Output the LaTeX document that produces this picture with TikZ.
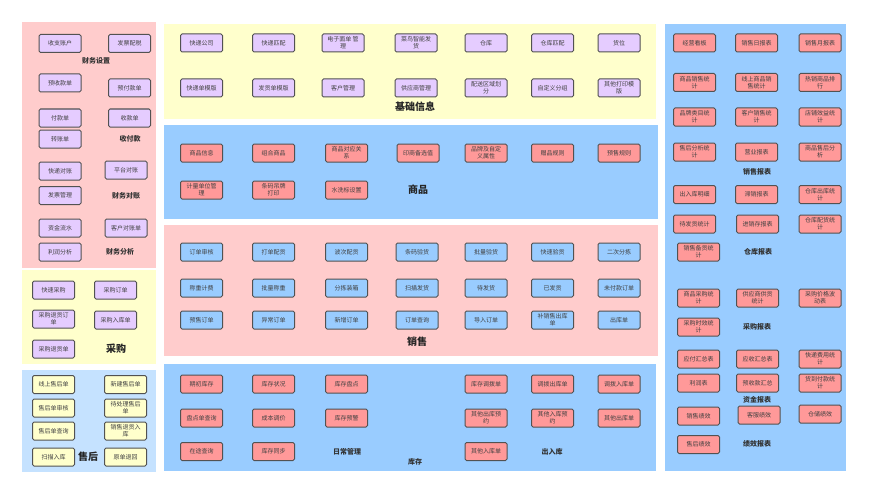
\documentclass[tikz,border=0pt]{standalone}
\usepackage{fontspec}
\setmainfont{Noto Sans CJK SC}
\begin{document}
\begin{tikzpicture}[x=1pt,y=-1pt,
  box/.style={draw=black!68,line width=1pt,rounded corners=1.5pt,minimum width=42pt,minimum height=18pt,inner sep=1pt,align=center,font=\fontsize{6}{7}\selectfont,text=black!75},
  pu/.style={box,fill=purpleN},
  pk/.style={box,fill=pinkN},
  bl/.style={box,fill=blueN},
  ye/.style={box,fill=yellowN},
  lab/.style={font=\fontsize{7}{8}\selectfont\bfseries,text=black!80},
  big/.style={font=\fontsize{10}{11}\selectfont\bfseries,text=black!85}]
\definecolor{purpleN}{HTML}{E5CCFF}
\definecolor{pinkN}{HTML}{FF9999}
\definecolor{blueN}{HTML}{99CCFF}
\definecolor{yellowN}{HTML}{FFFFCC}
\definecolor{pinkbg}{HTML}{FFCCCC}
\definecolor{yellowbg}{HTML}{FFFFCC}
\definecolor{bluebg}{HTML}{99CCFF}
\definecolor{lightbluebg}{HTML}{C5E2FF}
\useasboundingbox[fill=white] (0,0) rectangle (874,500);
% panels
\fill[pinkbg] (22,22) rectangle (156,268);
\fill[yellowbg] (22,270) rectangle (156,364);
\fill[lightbluebg] (22,370) rectangle (156,472);
\fill[yellowbg] (164,24) rectangle (656,119);
\fill[bluebg] (164,125) rectangle (658,219);
\fill[pinkbg] (164,225) rectangle (658,356);
\fill[bluebg] (164,364) rectangle (656,471);
\fill[bluebg] (665,24) rectangle (846,471);
% finance
\node[pu] (f1) at (60,43.5) {收支账户};
\node[pu] (f2) at (129.5,43.5) {发票配税};
\node[lab] (l1) at (96,61) {财务设置};
\node[pu] (f3) at (60,83) {预收款单};
\node[pu] (f4) at (129.5,88) {预付款单};
\node[pu] (f5) at (60,118) {付款单};
\node[pu] (f6) at (129.5,118) {收款单};
\node[pu] (f7) at (60,139) {转账单};
\node[lab] (l2) at (130,139) {收付款};
\node[pu] (f8) at (60,171) {快递对账};
\node[pu] (f9) at (126,170) {平台对账};
\node[pu] (f10) at (60,195.5) {发票管理};
\node[lab] (l3) at (126,195.5) {财务对账};
\node[pu] (f11) at (60,228) {资金流水};
\node[pu] (f12) at (126,228) {客户对账单};
\node[pu] (f13) at (60,252) {利润分析};
\node[lab] (l4) at (120,252) {财务分析};
% purchase
\node[pu] (c1) at (53.5,290) {快速采购};
\node[pu] (c2) at (115.5,290) {采购订单};
\node[pu] (c3) at (53.5,319) {采购退货订\\单};
\node[pu] (c4) at (115.5,320) {采购入库单};
\node[pu] (c5) at (53.5,349) {采购退货单};
\node[big] (l5) at (116,349) {采购};
% after sales
\node[ye] (a1) at (53.5,384.5) {线上售后单};
\node[ye] (a2) at (125.5,384.5) {新建售后单};
\node[ye] (a3) at (53.5,408) {售后单审核};
\node[ye] (a4) at (125.5,408) {待处理售后\\单};
\node[ye] (a5) at (53.5,431) {售后单查询};
\node[ye] (a6) at (125.5,431) {销售退货入\\库};
\node[ye] (a7) at (53.5,457) {扫描入库};
\node[big] (l6) at (88,457) {售后};
\node[ye] (a8) at (125.5,457) {原单退回};
% basic info
\node[pu] (b1) at (201.5,43) {快递公司};
\node[pu] (b2) at (273.5,43) {快递匹配};
\node[pu] (b3) at (343,43) {电子面单 管\\理};
\node[pu] (b4) at (416,43) {菜鸟智能发\\货};
\node[pu] (b5) at (486,43) {仓库};
\node[pu] (b6) at (552.5,43) {仓库匹配};
\node[pu] (b7) at (619,43) {货位};
\node[pu] (b8) at (201.5,88) {快递单模版};
\node[pu] (b9) at (273.5,88) {发货单模版};
\node[pu] (b10) at (343,88) {客户管理};
\node[pu] (b11) at (416,88) {供应商管理};
\node[pu] (b12) at (486,88) {配送区域划\\分};
\node[pu] (b13) at (552.5,88) {自定义分组};
\node[pu] (b14) at (619,88) {其他打印模\\版};
\node[big] (l7) at (415,107) {基础信息};
% goods
\node[pk] (g1) at (201.5,153) {商品信息};
\node[pk] (g2) at (273.5,153) {组合商品};
\node[pk] (g3) at (346.5,153) {商品对应关\\系};
\node[pk] (g4) at (418,153) {印商备选值};
\node[pk] (g5) at (486,153) {品牌及自定\\义属性};
\node[pk] (g6) at (552.5,153) {赠品规则};
\node[pk] (g7) at (619,153) {预售规则};
\node[pk] (g8) at (201.5,190) {计量单位管\\理};
\node[pk] (g9) at (273.5,190) {条码吊牌\\打印};
\node[pk] (g10) at (346.5,190) {水洗标设置};
\node[big] (l8) at (418,190) {商品};
% sales
\node[bl] (s1) at (201.5,252) {订单审核};
\node[bl] (s2) at (273.5,252) {打单配货};
\node[bl] (s3) at (346.5,252) {波次配货};
\node[bl] (s4) at (417,252) {条码验货};
\node[bl] (s5) at (486,252) {批量验货};
\node[bl] (s6) at (552.5,252) {快速验货};
\node[bl] (s7) at (619,252) {二次分拣};
\node[bl] (s8) at (201.5,288) {称重计费};
\node[bl] (s9) at (273.5,288) {批量称重};
\node[bl] (s10) at (346.5,288) {分拣装箱};
\node[bl] (s11) at (417,288) {扫描发货};
\node[bl] (s12) at (486,288) {待发货};
\node[bl] (s13) at (552.5,288) {已发货};
\node[bl] (s14) at (619,288) {未付款订单};
\node[bl] (s15) at (201.5,320) {预售订单};
\node[bl] (s16) at (273.5,320) {异常订单};
\node[bl] (s17) at (346.5,320) {新增订单};
\node[bl] (s18) at (417,320) {订单查询};
\node[bl] (s19) at (486,320) {导入订单};
\node[bl] (s20) at (552.5,320) {补销售出库\\单};
\node[bl] (s21) at (619,320) {出库单};
\node[big] (l9) at (417,342) {销售};
% inventory
\node[pk] (k1) at (201.5,384) {期初库存};
\node[pk] (k2) at (273.5,384) {库存状况};
\node[pk] (k3) at (346.5,384) {库存盘点};
\node[pk] (k4) at (201.5,418) {盘点单查询};
\node[pk] (k5) at (273.5,418) {成本调价};
\node[pk] (k6) at (346.5,418) {库存预警};
\node[pk] (k7) at (201.5,451.5) {在途查询};
\node[pk] (k8) at (273.5,451.5) {库存同步};
\node[lab] (l10) at (347,452) {日常管理};
\node[pk] (k9) at (486,384) {库存调拨单};
\node[pk] (k10) at (552.5,384) {调拨出库单};
\node[pk] (k11) at (619,384) {调拨入库单};
\node[pk] (k12) at (486,418) {其他出库预\\约};
\node[pk] (k13) at (552.5,418) {其他入库预\\约};
\node[pk] (k14) at (619,418) {其他出库单};
\node[pk] (k15) at (486,451.5) {其他入库单};
\node[lab] (l11) at (552,452) {出入库};
\node[lab] (l12) at (415,462) {库存};
% reports
\node[pk] (r1) at (694.5,43) {经营看板};
\node[pk] (r2) at (756.5,43) {销售日报表};
\node[pk] (r3) at (820,43) {销售月报表};
\node[pk] (r4) at (694.5,82.5) {商品销售统\\计};
\node[pk] (r5) at (756.5,82.5) {线上商品销\\售统计};
\node[pk] (r6) at (820,82.5) {热销商品排\\行};
\node[pk] (r7) at (694.5,117) {品牌类目统\\计};
\node[pk] (r8) at (756.5,117) {客户销售统\\计};
\node[pk] (r9) at (820,117) {店铺效益统\\计};
\node[pk] (r10) at (694.5,152) {售后分析统\\计};
\node[pk] (r11) at (756.5,152) {营业报表};
\node[pk] (r12) at (820,152) {商品售后分\\析};
\node[lab] (l13) at (757,172) {销售报表};
\node[pk] (r13) at (694.5,194.5) {出入库明细};
\node[pk] (r14) at (756.5,194.5) {滞销报表};
\node[pk] (r15) at (820,194.5) {仓库出库统\\计};
\node[pk] (r16) at (694.5,224) {待发货统计};
\node[pk] (r17) at (757.5,224) {进销存报表};
\node[pk] (r18) at (820,224) {仓库配货统\\计};
\node[pk] (r19) at (698.5,252) {销售备货统\\计};
\node[lab] (l14) at (758,252) {仓库报表};
\node[pk] (r20) at (698.5,298) {商品采购统\\计};
\node[pk] (r21) at (757.5,298) {供应商供货\\统计};
\node[pk] (r22) at (820,298) {采购价格波\\动表};
\node[pk] (r23) at (698.5,327) {采购时效统\\计};
\node[lab] (l15) at (757,327) {采购报表};
\node[pk] (r24) at (698.5,359) {应付汇总表};
\node[pk] (r25) at (757.5,359) {应收汇总表};
\node[pk] (r26) at (820,359) {快递费用统\\计};
\node[pk] (r27) at (698.5,383) {利润表};
\node[pk] (r28) at (757.5,383) {预收款汇总};
\node[pk] (r29) at (820,383) {货到付款统\\计};
\node[lab] (l16) at (757,400) {资金报表};
\node[pk] (r30) at (698.5,416) {销售绩效};
\node[pk] (r31) at (759,415) {客服绩效};
\node[pk] (r32) at (820,414) {仓储绩效};
\node[pk] (r33) at (698.5,444.5) {售后绩效};
\node[lab] (l17) at (757,444) {绩效报表};
\end{tikzpicture}
\end{document}
